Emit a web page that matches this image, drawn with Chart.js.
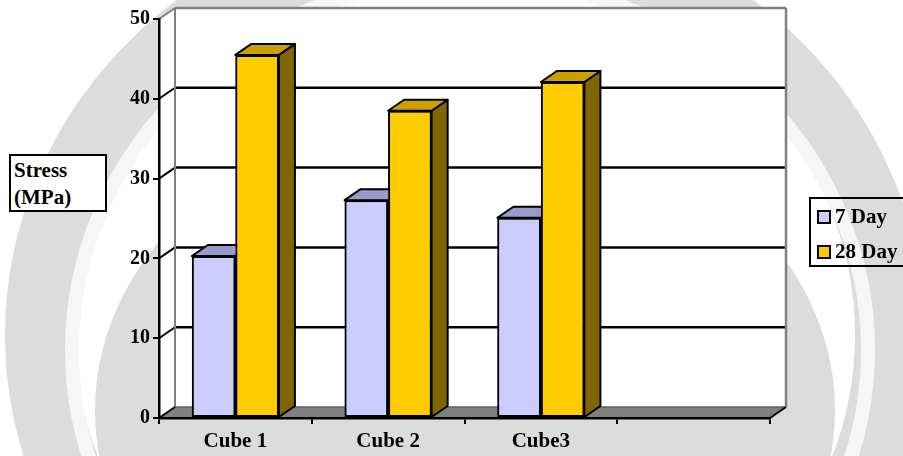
<!DOCTYPE html>
<html lang="en">
<head>
<meta charset="UTF-8">
<title>Cube Stress</title>
<script src="https://cdn.jsdelivr.net/npm/chart.js"></script>
<style>
    html, body { margin: 0; padding: 0; background: #fff; }
    #wrap {
        position: relative; width: 903px; height: 456px; overflow: hidden;
        font-family: "Liberation Serif", "Times New Roman", serif; font-weight: bold; color: #000;
    }
    #stressBox {
        position: absolute; left: 9px; top: 154px; width: 98px; height: 58px;
        box-sizing: border-box; border: 2px solid #000; background: #fff;
        font-size: 21px; line-height: 27px; padding: 1px 0 0 3px;
    }
    #legendBox {
        position: absolute; left: 809px; top: 197px; width: 100px; height: 70px;
        box-sizing: border-box; border: 2px solid #000;
        font-size: 21px; padding: 1px 0 0 6px;
    }
    .item { height: 35px; line-height: 32px; white-space: nowrap; }
    .swatch {
        display: inline-block; width: 14px; height: 14px; box-sizing: border-box;
        border: 2px solid #000; vertical-align: -1px; margin-right: 4px;
    }
</style>
</head>
<body>
<div id="wrap">
    <canvas id="stressChart" width="903" height="456"></canvas>
    <div id="stressBox">Stress<br>(MPa)</div>
    <div id="legendBox"></div>
</div>
<script>
    // categories and stress values (MPa)
    var categories = ['Cube 1', 'Cube 2', 'Cube3', ''];
    var day7 = [20.3, 27.3, 25.1, null];
    var day28 = [45.5, 38.5, 42.1, null];
    var seriesNames = ['7 Day', '28 Day'];
    var yTicks = [0, 10, 20, 30, 40, 50];

    var frontColors = ['#CCCCFF', '#FFCC00'];
    var topColors = ['#9999CC', '#C9A000'];
    var sideColors = ['#666699', '#806600'];

    // depth offset of the 3d box
    var DX = 16, DY = -11;
    var serif = "'Liberation Serif', 'Times New Roman', serif";

    function poly(ctx, pts, fill, stroke, lw) {
        ctx.beginPath();
        ctx.moveTo(pts[0][0], pts[0][1]);
        for (var i = 1; i < pts.length; i++) ctx.lineTo(pts[i][0], pts[i][1]);
        ctx.closePath();
        if (fill) { ctx.fillStyle = fill; ctx.fill(); }
        if (stroke) { ctx.strokeStyle = stroke; ctx.lineWidth = lw || 2; ctx.stroke(); }
    }

    function line(ctx, x1, y1, x2, y2, color, lw) {
        ctx.beginPath();
        ctx.moveTo(x1, y1);
        ctx.lineTo(x2, y2);
        ctx.strokeStyle = color;
        ctx.lineWidth = lw;
        ctx.stroke();
    }

    var boxPlugin = {
        id: 'box3d',
        beforeDraw: function (chart) {
            var ctx = chart.ctx, a = chart.chartArea, y = chart.scales.y;
            ctx.save();

            // faint background logo
            ctx.beginPath();
            ctx.ellipse(465, 335, 425, 395, 0, 0, Math.PI * 2);
            ctx.strokeStyle = '#dcdcdc';
            ctx.lineWidth = 70;
            ctx.stroke();
            ctx.beginPath();
            ctx.ellipse(465, 410, 370, 300, 0, 0, Math.PI * 2);
            ctx.fillStyle = '#dcdcdc';
            ctx.fill();
            ctx.beginPath();
            ctx.ellipse(470, 350, 398, 372, 0, 0, Math.PI * 2);
            ctx.strokeStyle = '#f6f6f6';
            ctx.lineWidth = 14;
            ctx.stroke();

            // side and back walls
            poly(ctx, [[a.left, a.top], [a.left + DX, a.top + DY], [a.right + DX, a.top + DY],
                [a.right + DX, a.bottom + DY], [a.left, a.bottom]], '#ffffff');

            yTicks.forEach(function (v) {
                if (v === 0) return;
                var py = y.getPixelForValue(v);
                var col = v === yTicks[yTicks.length - 1] ? '#808080' : '#000';
                line(ctx, a.left, py, a.left + DX, py + DY, col, 2);
                line(ctx, a.left + DX, py + DY, a.right + DX, py + DY, col, 2.5);
            });
            line(ctx, a.left + DX, a.top + DY, a.left + DX, a.bottom + DY, '#808080', 2);
            line(ctx, a.right + DX, a.top + DY, a.right + DX, a.bottom + DY, '#808080', 2.5);

            // floor
            poly(ctx, [[a.left, a.bottom], [a.left + DX, a.bottom + DY], [a.right + DX, a.bottom + DY],
                [a.right, a.bottom]], '#808080');
            line(ctx, a.left + DX, a.bottom + DY, a.right + DX, a.bottom + DY, '#5e5e5e', 1.5);
            line(ctx, a.left, a.bottom, a.left + DX, a.bottom + DY, '#000', 2);
            line(ctx, a.right, a.bottom, a.right + DX, a.bottom + DY, '#000', 2);
            ctx.restore();
        },
        afterDatasetsDraw: function (chart) {
            var ctx = chart.ctx;
            ctx.save();
            ctx.lineJoin = 'round';
            // redraw per category, left to right, so each bar hides the one behind it
            categories.forEach(function (c, i) {
                chart.data.datasets.forEach(function (ds, d) {
                    if (ds.data[i] == null) return;
                    var el = chart.getDatasetMeta(d).data[i];
                    el.draw(ctx);
                    var l = el.x - el.width / 2, r = el.x + el.width / 2;
                    poly(ctx, [[r, el.y], [r + DX, el.y + DY], [r + DX, el.base + DY], [r, el.base]],
                        sideColors[d], '#000', 2);
                    poly(ctx, [[l, el.y], [l + DX, el.y + DY], [r + DX, el.y + DY], [r, el.y]],
                        topColors[d], '#000', 2);
                });
            });
            ctx.restore();
        }
    };

    var ctx = document.getElementById('stressChart').getContext('2d');
    var chart = new Chart(ctx, {
        type: 'bar',
        data: {
            labels: categories,
            datasets: [day7, day28].map(function (vals, d) {
                return {
                    label: seriesNames[d],
                    data: vals,
                    backgroundColor: frontColors[d],
                    borderColor: '#000',
                    borderWidth: 2,
                    borderSkipped: false,
                    categoryPercentage: 0.57,
                    barPercentage: 1.0
                };
            })
        },
        options: {
            responsive: false,
            animation: false,
            layout: { padding: { top: 19, right: 133, left: 0, bottom: 0 } },
            plugins: { legend: { display: false }, tooltip: { enabled: false } },
            scales: {
                x: {
                    offset: true,
                    grid: { offset: true, drawOnChartArea: false, color: '#000', lineWidth: 2, tickLength: 6 },
                    border: { color: '#000', width: 2.5 },
                    ticks: { color: '#000', padding: 5, maxRotation: 0, font: { family: serif, size: 21, weight: 'bold' } },
                    afterFit: function (s) { s.height = 38; }
                },
                y: {
                    min: 0, max: 50,
                    afterBuildTicks: function (s) { s.ticks = yTicks.map(function (v) { return { value: v }; }); },
                    grid: { drawOnChartArea: false, color: '#000', lineWidth: 2, tickLength: 6 },
                    border: { color: '#000', width: 2.5 },
                    ticks: { color: '#000', padding: 3, font: { family: serif, size: 20, weight: 'bold' } },
                    afterFit: function (s) { s.width = 159; }
                }
            }
        },
        plugins: [boxPlugin]
    });

    // legend from the series
    var legend = document.getElementById('legendBox');
    seriesNames.forEach(function (name, d) {
        var row = document.createElement('div');
        row.className = 'item';
        row.innerHTML = '<span class="swatch" style="background:' + frontColors[d] + '"></span>' + name;
        legend.appendChild(row);
    });
</script>
</body>
</html>
